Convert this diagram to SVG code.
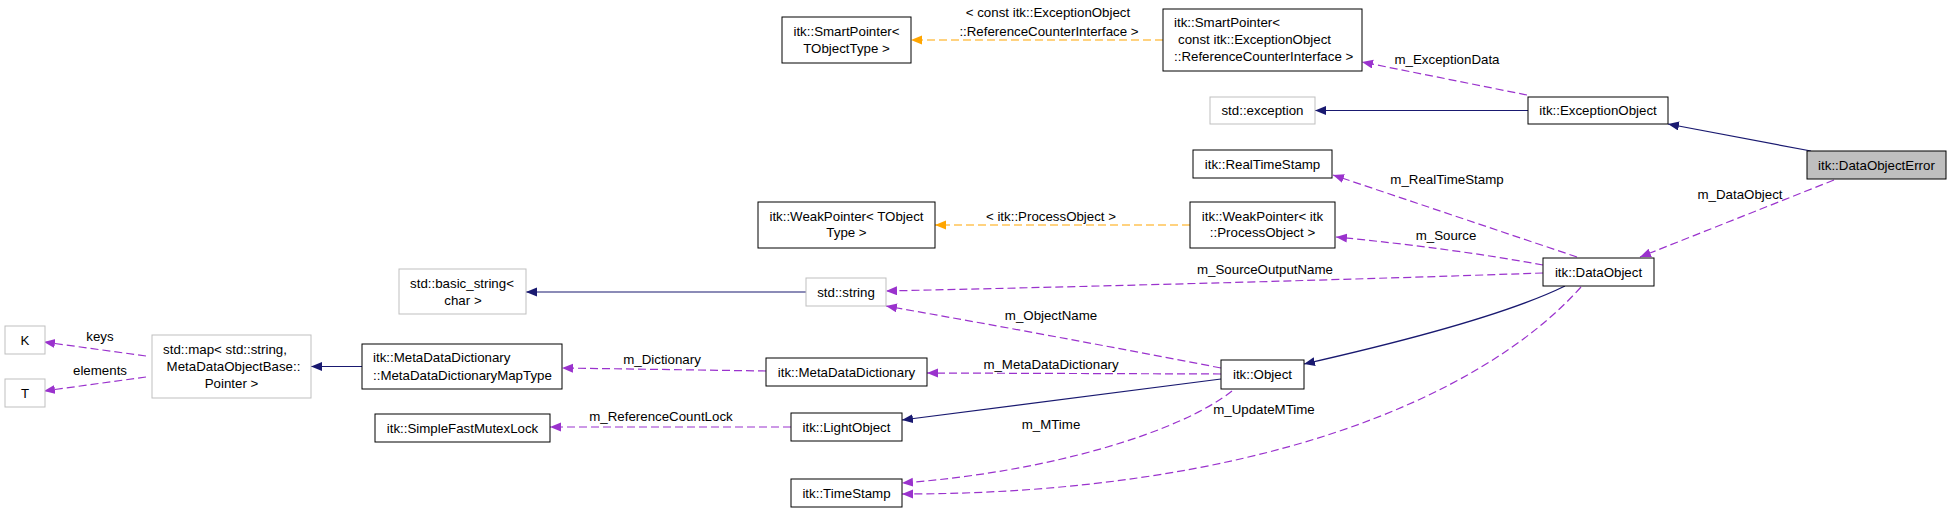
<svg xmlns="http://www.w3.org/2000/svg" width="1952" height="513" viewBox="0 0 1952 513">
<style>
text{font-family:"Liberation Sans",Arial,sans-serif;font-size:13.3px;fill:#000}
.c{text-anchor:middle}
.n rect{fill:#fff;stroke:#000;stroke-width:1}
.g rect{fill:#fff;stroke:#bfbfbf;stroke-width:1}
.sel rect{fill:#bfbfbf;stroke:#000;stroke-width:1}
.inh{fill:none;stroke:#191970;stroke-width:1.2}
.use{fill:none;stroke:#9a32cd;stroke-width:1.2;stroke-dasharray:8,4}
.tpl{fill:none;stroke:#ffa500;stroke-width:1.2;stroke-dasharray:8,4}
</style>
<defs>
<marker id="aN" markerUnits="userSpaceOnUse" markerWidth="12" markerHeight="10" refX="11" refY="4.5" orient="auto"><path d="M0,0 L11,4.5 L0,9 z" fill="#191970"/></marker>
<marker id="aP" markerUnits="userSpaceOnUse" markerWidth="12" markerHeight="10" refX="11" refY="4.5" orient="auto"><path d="M0,0 L11,4.5 L0,9 z" fill="#9a32cd"/></marker>
<marker id="aO" markerUnits="userSpaceOnUse" markerWidth="12" markerHeight="10" refX="11" refY="4.5" orient="auto"><path d="M0,0 L11,4.5 L0,9 z" fill="#ffa500"/></marker>
</defs>
<rect width="1952" height="513" fill="#fff"/>
<g id="connectors">
<path class="tpl" d="M1163,40 L911,40" marker-end="url(#aO)"/>
<text class="c" x="1048" y="17">&lt; const itk::ExceptionObject</text>
<text class="c" x="1049" y="35.5">::ReferenceCounterInterface &gt;</text>
<path class="use" d="M1527,95 L1362,62" marker-end="url(#aP)"/>
<text class="c" x="1447" y="63.5">m_ExceptionData</text>
<path class="inh" d="M1528,110.5 L1315,110.5" marker-end="url(#aN)"/>
<path class="inh" d="M1811,151 L1668,124" marker-end="url(#aN)"/>
<path class="use" d="M1834,180 L1640,257" marker-end="url(#aP)"/>
<text class="c" x="1740" y="198.5">m_DataObject</text>
<path class="use" d="M1577,257 L1333,175" marker-end="url(#aP)"/>
<text class="c" x="1447" y="183.5">m_RealTimeStamp</text>
<path class="tpl" d="M1190,225 L935,225" marker-end="url(#aO)"/>
<text class="c" x="1051" y="220.5">&lt; itk::ProcessObject &gt;</text>
<path class="use" d="M1543,265 Q1450,248 1336,237" marker-end="url(#aP)"/>
<text class="c" x="1446" y="239.5">m_Source</text>
<path class="use" d="M1543,273 Q1250,283 886,291" marker-end="url(#aP)"/>
<text class="c" x="1265" y="273.5">m_SourceOutputName</text>
<path class="inh" d="M806,292 L526,292" marker-end="url(#aN)"/>
<path class="inh" d="M1565,286 C1510,313 1410,340 1304,364" marker-end="url(#aN)"/>
<path class="use" d="M1221,368 Q1050,335 886,306" marker-end="url(#aP)"/>
<text class="c" x="1051" y="320">m_ObjectName</text>
<path class="use" d="M1221,374 L927,373" marker-end="url(#aP)"/>
<text class="c" x="1051" y="368.5">m_MetaDataDictionary</text>
<path class="use" d="M766,371 L562,368" marker-end="url(#aP)"/>
<text class="c" x="662" y="363.5">m_Dictionary</text>
<path class="inh" d="M362,366.5 L311,366.5" marker-end="url(#aN)"/>
<path class="use" d="M146,356 L44,342" marker-end="url(#aP)"/>
<text class="c" x="100" y="340.5">keys</text>
<path class="use" d="M146,377 L44,391" marker-end="url(#aP)"/>
<text class="c" x="100" y="375">elements</text>
<path class="inh" d="M1221,379 L902,420" marker-end="url(#aN)"/>
<path class="use" d="M791,427 L550,427" marker-end="url(#aP)"/>
<text class="c" x="661" y="421">m_ReferenceCountLock</text>
<path class="use" d="M1232,391 C1180,432 1050,472 902,483" marker-end="url(#aP)"/>
<text class="c" x="1051" y="428.5">m_MTime</text>
<path class="use" d="M1581,287 C1480,400 1250,494 902,494" marker-end="url(#aP)"/>
<text class="c" x="1264" y="413.5">m_UpdateMTime</text>
</g>
<g id="node_SmartPointer_T" class="n"><rect x="782" y="17" width="129" height="46"/><text class="c" x="846.5" y="36">itk::SmartPointer&lt;</text><text class="c" x="846.5" y="53">TObjectType &gt;</text></g>
<g id="node_SmartPointer_Const" class="n"><rect x="1163" y="9" width="199" height="62"/><text x="1174" y="27">itk::SmartPointer&lt;</text><text x="1178" y="44">const itk::ExceptionObject</text><text x="1174" y="61">::ReferenceCounterInterface &gt;</text></g>
<g id="node_std_exception" class="g"><rect x="1210" y="97" width="105" height="27"/><text class="c" x="1262.5" y="115">std::exception</text></g>
<g id="node_ExceptionObject" class="n"><rect x="1528" y="97" width="140" height="27"/><text class="c" x="1598" y="115">itk::ExceptionObject</text></g>
<g id="node_DataObjectError" class="sel"><rect x="1807" y="151" width="139" height="28"/><text class="c" x="1876.5" y="169.5">itk::DataObjectError</text></g>
<g id="node_RealTimeStamp" class="n"><rect x="1193" y="150" width="139" height="28"/><text class="c" x="1262.5" y="168.5">itk::RealTimeStamp</text></g>
<g id="node_WeakPointer_T" class="n"><rect x="758" y="202" width="177" height="46"/><text class="c" x="846.5" y="220.5">itk::WeakPointer&lt; TObject</text><text class="c" x="846.5" y="237">Type &gt;</text></g>
<g id="node_WeakPointer_PO" class="n"><rect x="1190" y="202" width="145" height="46"/><text class="c" x="1262.5" y="220.5">itk::WeakPointer&lt; itk</text><text class="c" x="1262.5" y="237">::ProcessObject &gt;</text></g>
<g id="node_DataObject" class="n"><rect x="1543" y="258" width="111" height="28"/><text class="c" x="1598.5" y="276.5">itk::DataObject</text></g>
<g id="node_basic_string" class="g"><rect x="399" y="269" width="127" height="45"/><text class="c" x="462" y="288">std::basic_string&lt;</text><text class="c" x="463" y="304.5">char &gt;</text></g>
<g id="node_std_string" class="g"><rect x="806" y="278" width="80" height="28"/><text class="c" x="846" y="296.5">std::string</text></g>
<g id="node_K" class="g"><rect x="5" y="326" width="40" height="28"/><text class="c" x="25" y="344.5">K</text></g>
<g id="node_T" class="g"><rect x="5" y="379" width="40" height="28"/><text class="c" x="25" y="397.5">T</text></g>
<g id="node_std_map" class="g"><rect x="152" y="335" width="159" height="63"/><text class="c" x="225" y="354">std::map&lt; std::string,</text><text class="c" x="233.5" y="371">MetaDataObjectBase::</text><text class="c" x="231.5" y="388">Pointer &gt;</text></g>
<g id="node_MDD_MapType" class="n"><rect x="362" y="344" width="200" height="45"/><text x="373" y="361.5">itk::MetaDataDictionary</text><text x="373" y="379.5">::MetaDataDictionaryMapType</text></g>
<g id="node_MetaDataDictionary" class="n"><rect x="766" y="358" width="161" height="28"/><text class="c" x="846.5" y="376.5">itk::MetaDataDictionary</text></g>
<g id="node_Object" class="n"><rect x="1221" y="360" width="83" height="29"/><text class="c" x="1262.5" y="379">itk::Object</text></g>
<g id="node_SimpleFastMutexLock" class="n"><rect x="375" y="414" width="175" height="28"/><text class="c" x="462.5" y="432.5">itk::SimpleFastMutexLock</text></g>
<g id="node_LightObject" class="n"><rect x="791" y="413" width="111" height="28"/><text class="c" x="846.5" y="431.5">itk::LightObject</text></g>
<g id="node_TimeStamp" class="n"><rect x="791" y="479" width="111" height="28"/><text class="c" x="846.5" y="497.5">itk::TimeStamp</text></g>
</svg>
